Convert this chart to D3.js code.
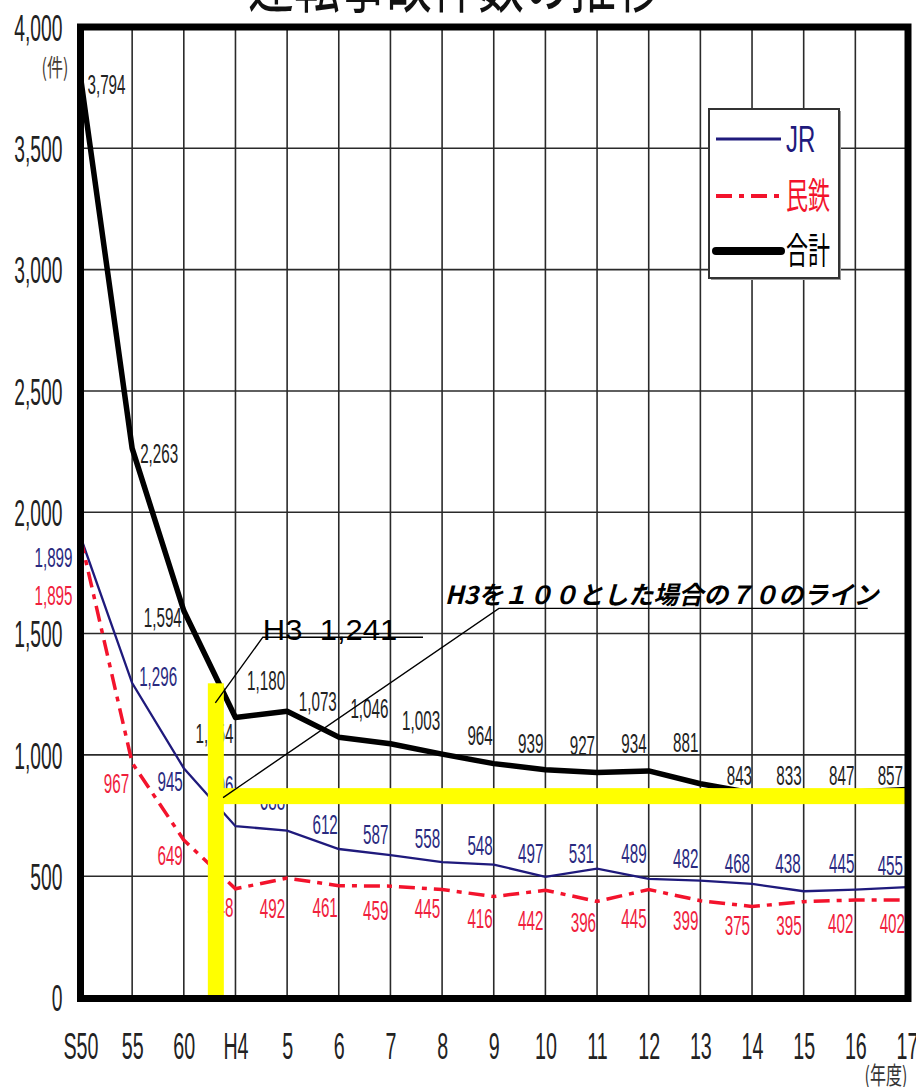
<!DOCTYPE html>
<html><head><meta charset="utf-8">
<script src="https://cdn.jsdelivr.net/npm/d3@7"></script>
<style>body{margin:0;background:#fff}svg{display:block}</style>
</head><body>
<svg id="c" width="916" height="1087"></svg>
<script>
// ---- data ----
const years = ["S50","55","60","H4","5","6","7","8","9","10","11","12","13","14","15","16","17"];
const jrValues = [1899,1296,945,706,688,612,587,558,548,497,531,489,482,468,438,445,455];
const mintetsuValues = [1895,967,649,448,492,461,459,445,416,442,396,445,399,375,395,402,402];
const totalValues = [3794,2263,1594,1154,1180,1073,1046,1003,964,939,927,934,881,843,833,847,857];
const yTicks = [0,500,1000,1500,2000,2500,3000,3500,4000];
const seriesNames = ["JR","民鉄","合計"];
const titleText = "運転事故件数の推移";
const h3Label = "H3\u00a0\u00a01,241";
const seventyLabel = "H3を１００とした場合の７０のライン";
// annotation levels (data units)
const seventyLevel = 830;
const h3BarTop = 1295;
const h3BarIndex = 2.62;

// label offsets (layout only)
const totalLabelDx = [7,8,-2,-2,-2,-2,-2,-2,-1,-2,-2,-2,-2,0,-2,-1,-4];
const totalLabelDy = [7,5,7,16,-31,-36,-35,-34,-28,-26,-27,-28,-41,-18,-20,-17,-14];
const jrLabelDx = [-8,7,-1,-2,-2,-1,-2,-2,-1,-2,-3,-2,-2,-2,-3,-1,-4];
const jrLabelDy = [21,-7,13,-41,-30,-25,-21,-24,-19,-24,-15,-26,-22,-21,-28,-26,-22];
const mtLabelDx = [-8,-3,-1,-2,-2,-1,-2,-2,-1,-2,-1,-2,-2,-2,-2,-2,-2];
const mtLabelDy = [58,20,15,19,30,22,24,19,22,30,21,29,20,19,24,23,23];

const svg = d3.select("#c");
const L = 80.5, R = 907, T = 27, B = 997.5;
const x = d3.scalePoint().domain(years).range([L, R]);
const xi = d3.scaleLinear().domain([0, years.length - 1]).range([L, R]);
const y = d3.scaleLinear().domain([0, 4000]).range([B, T]);
const fmt = d3.format(",");
const SANS = "'Liberation Sans', Arial, sans-serif";
const CJK = "'Noto Sans CJK JP', 'Noto Sans CJK SC', sans-serif";

const navy = "#1f1a7c", red = "#f3132c";

function stext(g, px, py, txt, o) {
  return g.append("text")
    .attr("transform", `translate(${px},${py}) scale(${o.sx||1},${o.sy||1})`)
    .attr("dy", o.dy || "0.35em")
    .attr("text-anchor", o.anchor || "start")
    .attr("font-family", o.font || SANS)
    .attr("font-size", o.size)
    .attr("font-weight", o.weight || "normal")
    .attr("font-style", o.style || "normal")
    .attr("fill", o.fill || "#222")
    .text(txt);
}

// title (cut off at top)
stext(svg, 455, -17, titleText, {size: 46, sy: 1.5, anchor: "middle", font: CJK, fill: "#111", dy: 0});

// grid
const grid = svg.append("g");
grid.selectAll("line.h").data(yTicks).join("line")
  .attr("x1", L).attr("x2", R).attr("y1", d => y(d)).attr("y2", d => y(d))
  .attr("stroke", "#2a2a2a").attr("stroke-width", 1.6);
grid.selectAll("line.v").data(years).join("line")
  .attr("x1", d => x(d)).attr("x2", d => x(d)).attr("y1", T).attr("y2", B)
  .attr("stroke", "#2a2a2a").attr("stroke-width", 1.6);

// axes
const ya = svg.append("g").attr("transform", `translate(${L},0)`)
  .call(d3.axisLeft(y).tickValues(yTicks).tickSize(0).tickFormat(fmt));
ya.select(".domain").remove();
ya.selectAll("text").attr("x", null).attr("dy", "0.35em")
  .attr("transform", "translate(-18,0) scale(0.82,1.6)")
  .attr("font-family", SANS).attr("font-size", 23.5).attr("fill", "#222").attr("text-anchor", "end");

const xa = svg.append("g").attr("transform", `translate(0,${B})`)
  .call(d3.axisBottom(x).tickSize(0));
xa.select(".domain").remove();
xa.selectAll("text").attr("y", null).attr("dy", "0.35em")
  .attr("transform", "translate(0,48) scale(0.82,1.55)")
  .attr("font-family", SANS).attr("font-size", 24).attr("fill", "#222");

stext(svg, 55, 68, "(件)", {size: 16, sy: 1.5, anchor: "middle", font: CJK, fill: "#443a33"});
stext(svg, 886, 1076, "(年度)", {size: 16, sy: 1.5, anchor: "middle", font: CJK, fill: "#333"});

// lines
const line = d3.line().x((d, i) => x(years[i])).y(d => y(d));
svg.append("path").datum(jrValues).attr("d", line)
  .attr("fill", "none").attr("stroke", navy).attr("stroke-width", 2.3);
svg.append("path").datum(mintetsuValues).attr("d", line)
  .attr("fill", "none").attr("stroke", red).attr("stroke-width", 3.5)
  .attr("stroke-dasharray", "16,7,5,7");
svg.append("path").datum(totalValues).attr("d", line)
  .attr("fill", "none").attr("stroke", "#000").attr("stroke-width", 5.5)
  .attr("stroke-linejoin", "round");

// value labels
function labels(vals, dxs, dys, color) {
  const g = svg.append("g");
  vals.forEach((v, i) => {
    const dx = dxs[i];
    stext(g, x(years[i]) + dx, y(v) + dys[i], fmt(v),
      {size: 19, sx: 0.8, sy: 1.45, anchor: dx > 0 ? "start" : "end", fill: color});
  });
}
labels(totalValues, totalLabelDx, totalLabelDy, "#222");
labels(jrValues, jrLabelDx, jrLabelDy, "#2a2a80");
labels(mintetsuValues, mtLabelDx, mtLabelDy, "#f0203c");

// yellow markers
const yb = svg.append("g");
yb.append("rect").attr("x", xi(h3BarIndex) - 8).attr("width", 16)
  .attr("y", y(h3BarTop)).attr("height", y(0) - y(h3BarTop) - 2).attr("fill", "#ffff00");
yb.append("rect").attr("x", xi(h3BarIndex)).attr("width", R - xi(h3BarIndex))
  .attr("y", y(seventyLevel) - 8).attr("height", 16).attr("fill", "#ffff00");

// annotations
const an = svg.append("g").attr("stroke", "#000").attr("stroke-width", 1.4).attr("fill", "none");
an.append("polyline").attr("points", [
  [xi(h3BarIndex) - 0.5, y(1214)], [xi(3.53), y(1485)], [xi(6.63), y(1485)]
].map(p => p.join(",")).join(" "));
an.append("polyline").attr("points", [
  [xi(2.76), y(824)], [xi(8.1), y(1604)], [xi(15.24), y(1604)]
].map(p => p.join(",")).join(" "));
stext(svg, xi(3.53), y(1517), h3Label, {size: 31, sy: 0.95, fill: "#000", dy: 0});
stext(svg, xi(7.05), y(1657), seventyLabel, {size: 25, font: CJK, weight: "bold", style: "italic", fill: "#000", dy: 0});

// legend
const lg = svg.append("g");
lg.append("rect").attr("x", 711).attr("y", 111).attr("width", 130).attr("height", 169).attr("fill", "#9a9a9a");
lg.append("rect").attr("x", 709).attr("y", 109).attr("width", 130).attr("height", 169)
  .attr("fill", "#fff").attr("stroke", "#333").attr("stroke-width", 2);
const legendStyles = [
  {stroke: navy, w: 3, dash: null, fill: navy, font: SANS, size: 24, sx: 1.0, sy: 1.55},
  {stroke: red, w: 4, dash: "16,7,5,7", fill: red, font: CJK, size: 22, sx: 1, sy: 1.65},
  {stroke: "#000", w: 8, dash: null, fill: "#000", font: CJK, size: 22, sx: 1, sy: 1.65}
];
const legendY = [139, 196, 251];
seriesNames.forEach((n, i) => {
  const s = legendStyles[i];
  lg.append("line").attr("x1", 716).attr("x2", 781).attr("y1", legendY[i]).attr("y2", legendY[i])
    .attr("stroke", s.stroke).attr("stroke-width", s.w)
    .attr("stroke-dasharray", s.dash).attr("stroke-linecap", i === 2 ? "round" : "butt");
  stext(lg, 786, legendY[i], n, {size: s.size, sx: s.sx, sy: s.sy, font: s.font, fill: s.fill});
});

// frame
svg.append("rect").attr("x", L).attr("y", T).attr("width", R - L + 1).attr("height", B - T + 1)
  .attr("fill", "none").attr("stroke", "#000").attr("stroke-width", 7);
</script>
</body></html>
